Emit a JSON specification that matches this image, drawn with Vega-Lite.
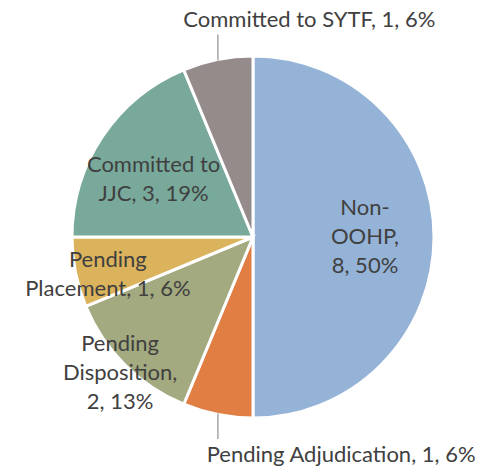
{
  "$schema": "https://vega.github.io/schema/vega-lite/v6.json",
  "width": 488,
  "height": 462,
  "autosize": {"type": "none"},
  "padding": {"left": 9, "top": 6, "right": 0, "bottom": 0},
  "background": "white",
  "config": {"view": {"stroke": null}},
  "datasets": {
    "slices": [
      {"order": 1, "name": "Non-OOHP", "count": 8, "label": "Non-|OOHP,|8, 50%"},
      {"order": 2, "name": "Pending Adjudication", "count": 1, "label": "Pending Adjudication, 1, 6%"},
      {"order": 3, "name": "Pending Disposition", "count": 2, "label": "Pending|Disposition,|2, 13%"},
      {"order": 4, "name": "Pending Placement", "count": 1, "label": "Pending|Placement, 1, 6%"},
      {"order": 5, "name": "Committed to JJC", "count": 3, "label": "Committed to|JJC, 3, 19%"},
      {"order": 6, "name": "Committed to SYTF", "count": 1, "label": "Committed to SYTF, 1, 6%"}
    ],
    "leaders": [
      {"name": "Committed to SYTF", "lx": -0.195, "ly1": 0.98, "ly2": 1.125},
      {"name": "Pending Adjudication", "lx": -0.195, "ly1": -0.98, "ly2": -1.122}
    ]
  },
  "layer": [
    {
      "data": {"name": "slices"},
      "mark": {"type": "arc", "outerRadius": 181, "stroke": "white", "strokeWidth": 3},
      "encoding": {
        "theta": {"field": "count", "type": "quantitative", "stack": true},
        "order": {"field": "order", "type": "quantitative", "sort": "ascending"},
        "color": {
          "field": "name", "type": "nominal", "legend": null,
          "scale": {
            "domain": ["Non-OOHP", "Pending Adjudication", "Pending Disposition", "Pending Placement", "Committed to JJC", "Committed to SYTF"],
            "range": ["#95B3D7", "#E07E44", "#A3AA7F", "#DAB35C", "#78A99B", "#958B8A"]
          }
        }
      }
    },
    {
      "data": {"name": "slices"},
      "mark": {"type": "text", "radius": 112, "dy": -29, "font": "Lato", "fontSize": 22, "color": "#404040", "lineBreak": "|", "lineHeight": 29, "baseline": "middle"},
      "encoding": {
        "theta": {"field": "count", "type": "quantitative", "stack": true},
        "order": {"field": "order", "type": "quantitative", "sort": "ascending"},
        "text": {"condition": {"test": "datum.name === 'Non-OOHP'", "field": "label"}, "value": ""}
      }
    },
    {
      "data": {"name": "slices"},
      "mark": {"type": "text", "radius": 116, "dy": -8, "dx": -3, "font": "Lato", "fontSize": 22, "color": "#404040", "lineBreak": "|", "lineHeight": 29, "baseline": "middle"},
      "encoding": {
        "theta": {"field": "count", "type": "quantitative", "stack": true},
        "order": {"field": "order", "type": "quantitative", "sort": "ascending"},
        "text": {"condition": {"test": "datum.name === 'Committed to JJC'", "field": "label"}, "value": ""}
      }
    },
    {
      "data": {"name": "slices"},
      "mark": {"type": "text", "radius": 150, "dy": -6, "dx": 2, "font": "Lato", "fontSize": 22, "color": "#404040", "lineBreak": "|", "lineHeight": 29, "baseline": "middle"},
      "encoding": {
        "theta": {"field": "count", "type": "quantitative", "stack": true},
        "order": {"field": "order", "type": "quantitative", "sort": "ascending"},
        "text": {"condition": {"test": "datum.name === 'Pending Placement'", "field": "label"}, "value": ""}
      }
    },
    {
      "data": {"name": "slices"},
      "mark": {"type": "text", "radius": 188, "dy": -26, "font": "Lato", "fontSize": 22, "color": "#404040", "lineBreak": "|", "lineHeight": 29, "baseline": "middle"},
      "encoding": {
        "theta": {"field": "count", "type": "quantitative", "stack": true},
        "order": {"field": "order", "type": "quantitative", "sort": "ascending"},
        "text": {"condition": {"test": "datum.name === 'Pending Disposition'", "field": "label"}, "value": ""}
      }
    },
    {
      "data": {"name": "slices"},
      "mark": {"type": "text", "radius": 219, "dy": -2, "font": "Lato", "fontSize": 22, "color": "#404040", "baseline": "middle", "align": "left", "dx": -27},
      "encoding": {
        "theta": {"field": "count", "type": "quantitative", "stack": true},
        "order": {"field": "order", "type": "quantitative", "sort": "ascending"},
        "text": {"condition": {"test": "datum.name === 'Committed to SYTF'", "field": "label"}, "value": ""}
      }
    },
    {
      "data": {"name": "slices"},
      "mark": {"type": "text", "radius": 222, "font": "Lato", "fontSize": 22, "color": "#404040", "baseline": "middle", "align": "left", "dx": -3},
      "encoding": {
        "theta": {"field": "count", "type": "quantitative", "stack": true},
        "order": {"field": "order", "type": "quantitative", "sort": "ascending"},
        "text": {"condition": {"test": "datum.name === 'Pending Adjudication'", "field": "label"}, "value": ""}
      }
    },
    {
      "data": {"name": "leaders"},
      "mark": {"type": "rule", "color": "#A6A6A6", "strokeWidth": 1.5},
      "encoding": {
        "x": {"field": "lx", "type": "quantitative", "scale": {"domain": [-1.3556, 1.3556]}, "axis": null},
        "y": {"field": "ly1", "type": "quantitative", "scale": {"domain": [-1.2833, 1.2833]}, "axis": null},
        "y2": {"field": "ly2"}
      }
    }
  ]
}
